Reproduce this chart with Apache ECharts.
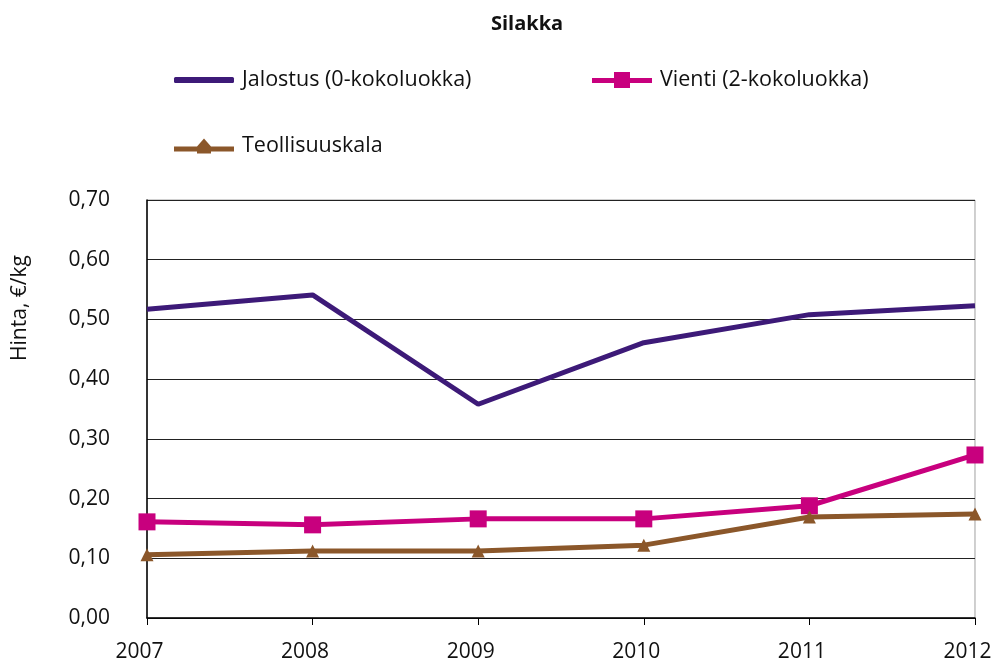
<!DOCTYPE html>
<html><head><meta charset="utf-8">
<script src="https://cdn.jsdelivr.net/npm/echarts@6/dist/echarts.min.js"></script>
<style>html,body{margin:0;padding:0;background:#fff;overflow:hidden}#c{width:1002px;height:665px}</style>
</head><body><div id="c"></div>
<script>
const years = ['2007','2008','2009','2010','2011','2012'];
const jalostus = [0.517, 0.541, 0.358, 0.461, 0.508, 0.523];
const vienti = [0.161, 0.156, 0.166, 0.166, 0.188, 0.273];
const teollisuus = [0.106, 0.112, 0.112, 0.122, 0.169, 0.174];
const names = ['Jalostus (0-kokoluokka)', 'Vienti (2-kokoluokka)', 'Teollisuuskala'];
const yTitle = 'Hinta, €/kg';
const FONT = '"Open Sans", "Noto Sans", sans-serif';
const C = ['#3d1a78', '#c8007e', '#8b572a'];
const chart = echarts.init(document.getElementById('c'), null, {width: 1002, height: 665});
const txt = {fontSize: 21.5, color: '#111', fontFamily: FONT, padding: [0, 0, 0, 3]};
chart.setOption({
  animation: false,
  title: {text: 'Silakka', left: 486, top: 9, textStyle: {fontSize: 20, fontWeight: 'bold', color: '#111', fontFamily: FONT}},
  legend: [
    {data: [{name: names[0], icon: 'roundRect'}], left: 169, top: 64, itemWidth: 60, itemHeight: 6, textStyle: txt},
    {data: [{name: names[1], icon: 'path://M0,6 L22,6 L22,0 L38,0 L38,6 L60,6 L60,11 L38,11 L38,16 L22,16 L22,11 L0,11 Z'}], left: 587, top: 64, itemWidth: 60, itemHeight: 16, textStyle: txt},
    {data: [{name: names[2], icon: 'path://M0,8 L23,8 L30,0 L37,8 L60,8 L60,13 L37,13 L37,15 L23,15 L23,13 L0,13 Z'}], left: 169, top: 130, itemWidth: 60, itemHeight: 15, textStyle: txt}
  ],
  graphic: [{type: 'text', x: 20, y: 308, rotation: Math.PI / 2,
    style: {text: yTitle, fontSize: 21, fill: '#111', fontFamily: FONT, align: 'center', verticalAlign: 'middle'}}],
  grid: {left: 147, right: 19, top: 200, bottom: 47, show: true, borderColor: '#a0a0a0', borderWidth: 1},
  xAxis: {
    type: 'category', data: years, boundaryGap: false,
    axisLine: {lineStyle: {color: '#000', width: 1.5}},
    axisTick: {show: true, length: 7, lineStyle: {color: '#000'}},
    axisLabel: {
      color: '#111', margin: 24,
      formatter: v => '{a|' + v + '}{b|}',
      rich: {a: {fontSize: 21, color: '#111', fontFamily: FONT}, b: {width: 15}}
    }
  },
  yAxis: {
    type: 'value', min: 0, max: 0.7, interval: 0.1,
    axisLine: {show: true, lineStyle: {color: '#000', width: 1.5}},
    axisTick: {show: false},
    axisLabel: {fontSize: 21, color: '#111', margin: 37, fontFamily: FONT, formatter: v => v.toFixed(2).replace('.', ',')},
    splitLine: {lineStyle: {color: '#222', width: 1}}
  },
  series: [
    {name: names[0], type: 'line', data: jalostus, symbol: 'none', lineStyle: {color: C[0], width: 5}, itemStyle: {color: C[0]}},
    {name: names[1], type: 'line', data: vienti, symbol: 'rect', symbolSize: 17, lineStyle: {color: C[1], width: 5}, itemStyle: {color: C[1]}},
    {name: names[2], type: 'line', data: teollisuus, symbol: 'triangle', symbolSize: 13, lineStyle: {color: C[2], width: 5}, itemStyle: {color: C[2]}}
  ]
});
</script></body></html>
